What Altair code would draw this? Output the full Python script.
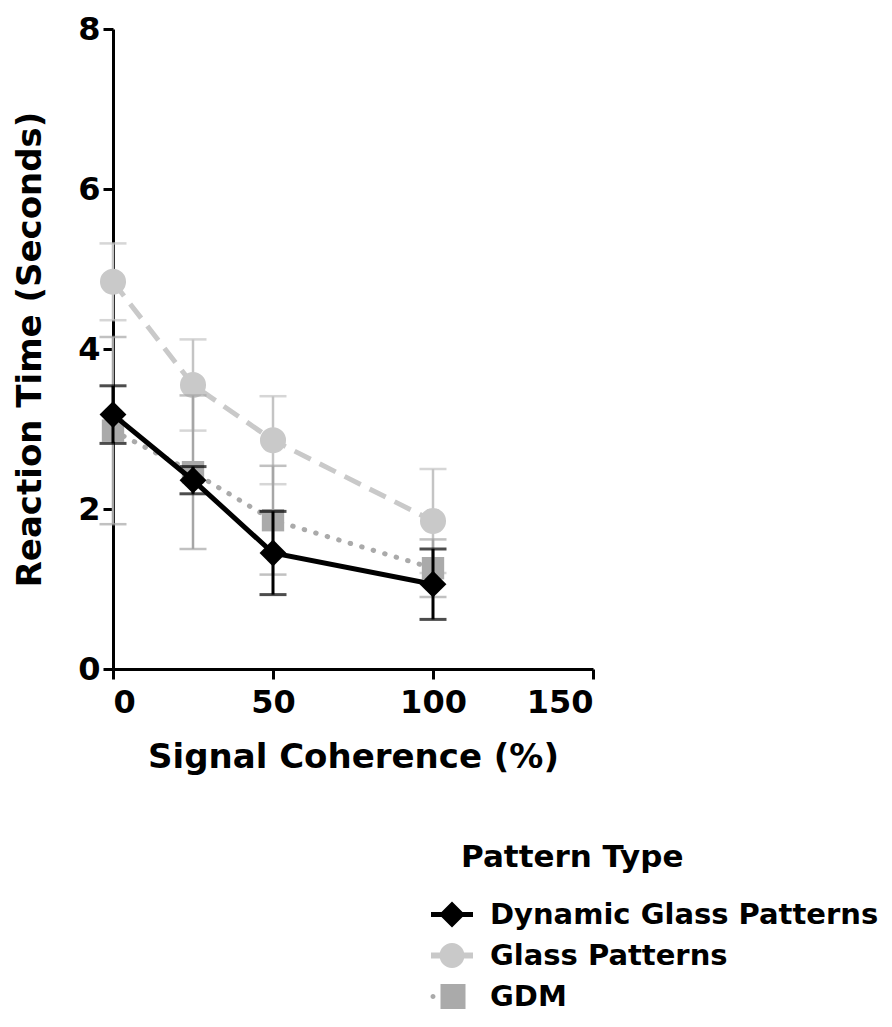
import altair as alt
import pandas as pd

coherence = [0, 25, 50, 100]
series_names = ["Dynamic Glass Patterns", "Glass Patterns", "GDM"]

dyn_mean = [3.18, 2.36, 1.45, 1.06]
dyn_err = [0.36, 0.17, 0.52, 0.44]
glass_mean = [4.84, 3.55, 2.86, 1.85]
glass_err = [0.48, 0.57, 0.55, 0.65]
gdm_mean = [2.98, 2.46, 1.86, 1.26]
gdm_err = [1.17, 0.96, 0.68, 0.36]

colors = ["#000000", "#c9c9c9", "#aaaaaa"]
errcolors = ["#000000", "#c4c4c4", "#a6a6a6"]

# legend symbols: line stubs + marker (path units; 1 unit = 5 px at size 100)
legend_paths = [
    "M-8.9,-0.5H-0.5V0.5H-8.9Z M-4.7,-2.6L-2.1,0L-4.7,2.6L-7.3,0Z",
    "M-8.9,-0.6H-6.9V0.6H-8.9Z M-2.5,-0.6H-0.5V0.6H-2.5Z "
    "M-2.2,0A2.5,2.5,0,1,1,-7.2,0A2.5,2.5,0,1,1,-2.2,0Z",
    "M-8.0,0A0.5,0.5,0,1,1,-9.0,0A0.5,0.5,0,1,1,-8.0,0Z M-7.0,-2.5H-2.0V2.5H-7.0Z",
]

means = [dyn_mean, glass_mean, gdm_mean]
errs = [dyn_err, glass_err, gdm_err]
rows = []
for s, m, e in zip(series_names, means, errs):
    for x, mv, ev in zip(coherence, m, e):
        rows.append({"series": s, "coh": x, "mean": mv, "lo": mv - ev, "hi": mv + ev})
df = pd.DataFrame(rows)

FONT = "DejaVu Sans"

xenc = alt.X("coh:Q", title="Signal Coherence (%)",
             scale=alt.Scale(domain=[0, 150], nice=False),
             axis=alt.Axis(values=[0, 50, 100, 150], format="d"))
yenc = alt.Y("mean:Q", title="Reaction Time (Seconds)",
             scale=alt.Scale(domain=[0, 8], nice=False),
             axis=alt.Axis(values=[0, 2, 4, 6, 8], format="d"))

base = alt.Chart(df)

line_styles = {
    "Dynamic Glass Patterns": dict(strokeWidth=5),
    "Glass Patterns": dict(strokeWidth=5, strokeDash=[18, 10]),
    "GDM": dict(strokeWidth=5, strokeDash=[0.5, 11.5], strokeCap="round"),
}
shapes = {"Dynamic Glass Patterns": ("diamond", 720),
          "Glass Patterns": ("circle", 680),
          "GDM": ("square", 500)}
ewidth = {"Dynamic Glass Patterns": 3, "Glass Patterns": 2.5, "GDM": 2.5}

layers = []
for idx in [1, 2, 0]:
    s = series_names[idx]
    b = base.transform_filter(alt.datum.series == s)
    line = b.mark_line(color=colors[idx], **line_styles[s]).encode(x=xenc, y=yenc)
    rule = b.mark_rule(color=errcolors[idx], strokeWidth=ewidth[s]).encode(
        x="coh:Q", y="lo:Q", y2="hi:Q")
    cap_lo = b.mark_tick(color=errcolors[idx], orient="horizontal", size=27,
                         thickness=ewidth[s]).encode(x="coh:Q", y="lo:Q")
    cap_hi = b.mark_tick(color=errcolors[idx], orient="horizontal", size=27,
                         thickness=ewidth[s]).encode(x="coh:Q", y="hi:Q")
    shp, sz = shapes[s]
    pts = b.mark_point(shape=shp, size=sz, filled=True, opacity=1,
                       color=colors[idx], strokeWidth=0).encode(x="coh:Q", y="mean:Q")
    layers += [rule, cap_lo, cap_hi, line, pts]

leg = alt.Legend(
    title="Pattern Type", orient="none", legendX=348, legendY=814,
    titleFont=FONT, titleFontSize=31, titleFontWeight="bold", titleColor="black",
    titlePadding=26, titleLimit=0,
    labelFont=FONT, labelFontSize=29, labelFontWeight="bold", labelColor="black",
    labelLimit=0, symbolSize=100, labelOffset=0, rowPadding=11,
    symbolOpacity=1, symbolStrokeWidth=0,
)
legend_layer = base.mark_point(filled=True, opacity=0, size=100).encode(
    x="coh:Q", y="mean:Q",
    color=alt.Color("series:N", scale=alt.Scale(domain=series_names, range=colors), legend=leg),
    shape=alt.Shape("series:N", scale=alt.Scale(domain=series_names, range=legend_paths), legend=leg),
)
layers.append(legend_layer)

chart = alt.layer(*layers).properties(width=480, height=640).configure_view(
    stroke=None
).configure_axis(
    grid=False, domainColor="black", domainWidth=3, tickColor="black", tickWidth=3,
    tickSize=10, labelFont=FONT, labelFontSize=32, labelFontWeight="bold",
    labelColor="black", titleFont=FONT, titleFontSize=34, titleFontWeight="bold",
    titleColor="black", labelPadding=3,
).configure_axisX(labelPadding=8, titlePadding=22).configure_axisY(titlePadding=30)

chart.save("out.html", embed_options={"renderer": "svg", "actions": False})
